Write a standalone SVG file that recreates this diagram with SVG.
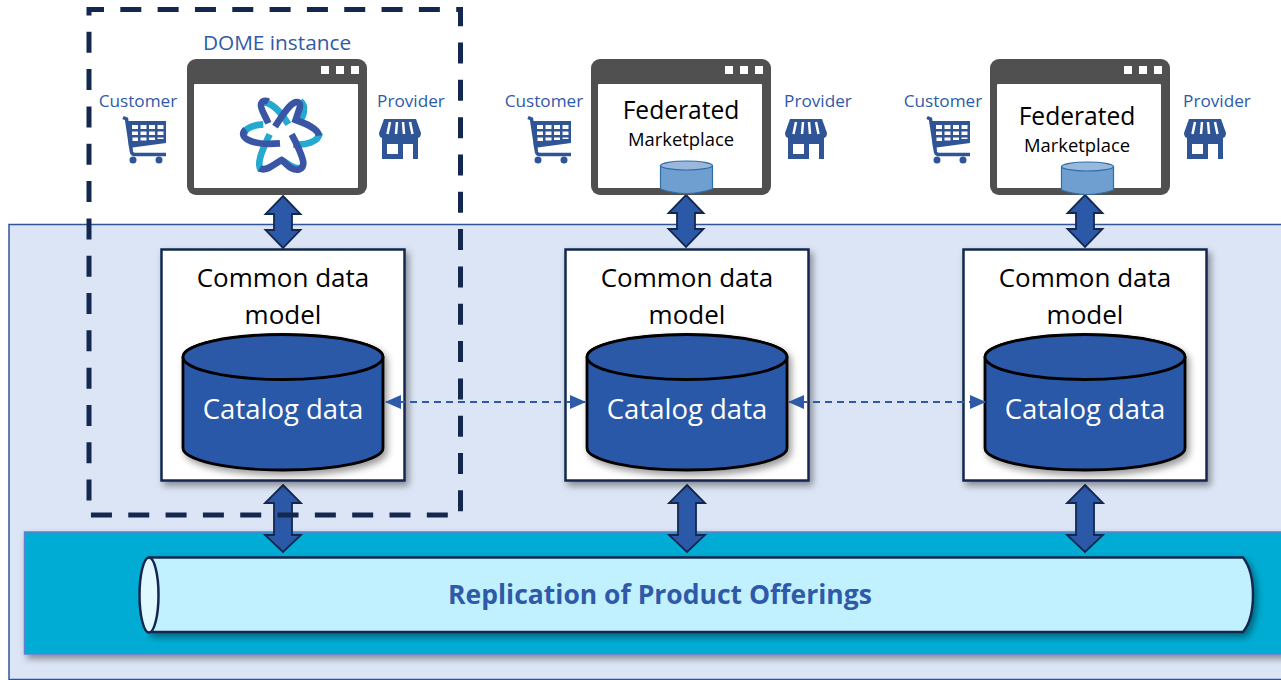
<svg xmlns="http://www.w3.org/2000/svg" xmlns:xlink="http://www.w3.org/1999/xlink" width="1281" height="680" viewBox="0 0 1281 680">
<style>
text{font-family:"Open Sans","Noto Sans","Liberation Sans",sans-serif;text-anchor:middle}
.blue{fill:#2f5aa8}
.sm{font-size:17.200px}
.cdm{font-size:26px;fill:#000}
.cat{font-size:27.500px;fill:#fff}
.fed{font-size:24.600px;fill:#000}
.mkt{font-size:18.400px;fill:#000}
.card{fill:#fff;stroke:#14284f;stroke-width:2.500;filter:url(#sh)}
.cyl{fill:#2c58a8;stroke:#000;stroke-width:2.800}
.arr{fill:#2c58a8;stroke:#14284f;stroke-width:1.800}
.dash{fill:none;stroke:#2f5aa8;stroke-width:2;stroke-dasharray:7 5}
.mini{fill:#6f9fd0;stroke:#2f6ea5;stroke-width:1.200}
.minitop{fill:#9ab8dd;stroke:#2f6ea5;stroke-width:1.200}
</style>
<defs>
<filter id="sh" x="-10%" y="-10%" width="125%" height="125%"><feDropShadow dx="3" dy="4" stdDeviation="3.500" flood-color="#000" flood-opacity=".4"/></filter>
<marker id="ah" markerWidth="16" markerHeight="14" refX="15" refY="7" orient="auto-start-reverse" markerUnits="userSpaceOnUse"><path d="M0 0L16 7L0 14Z" fill="#2f5aa8"/></marker>
<path id="ar-s" class="arr" d="M0 0L17.500 18H9V34H17.500L0 52L-17.500 34H-9V18H-17.500Z"/>
<path id="ar-l" class="arr" d="M0 0L18 18H9V50H18L0 67L-18 50H-9V18H-18Z"/>
<g id="win">
<rect x="0" y="0" width="180" height="136" rx="9" fill="#505050"/>
<rect x="7" y="25" width="164" height="104" rx="1" fill="#fff"/>
<rect x="134" y="7" width="8" height="8" fill="#fff"/><rect x="149" y="7" width="8" height="8" fill="#fff"/><rect x="164" y="7" width="8" height="8" fill="#fff"/>
</g>
<g id="cart">
<path d="M1 1.500L4.500 3L9.500 36Q10 38.500 13 38.500H44" fill="none" stroke="#2f5597" stroke-width="3.500"/>
<path d="M5 5H44V27L7 32Z" fill="#2f5597"/>
<g fill="#fff"><rect x="10" y="9" width="6" height="4"/><rect x="18.500" y="9" width="6" height="4"/><rect x="27" y="9" width="6" height="4"/><rect x="35.500" y="9" width="6" height="4"/>
<rect x="10" y="15.500" width="6" height="3.500"/><rect x="18.500" y="15.500" width="6" height="3.500"/><rect x="27" y="15.500" width="6" height="3.500"/><rect x="35.500" y="15.500" width="6" height="3.500"/>
<rect x="10.500" y="21.500" width="5.500" height="3.500"/><rect x="18.500" y="21.500" width="6" height="3"/><rect x="27" y="21.500" width="6" height="2.500"/><rect x="35.500" y="21.500" width="6" height="1.500"/></g>
<circle cx="11" cy="44" r="3.500" fill="#2f5597"/><circle cx="37" cy="44" r="3.500" fill="#2f5597"/>
</g>
<g id="store">
<path d="M5 0H37L42 14Q42 19 38 19H4Q0 19 0 14Z" fill="#2f5597"/>
<path d="M11 3L8.500 15M18 3L17 15M24 3L25 15M31 3L33.500 15" stroke="#fff" stroke-width="2.500" fill="none"/>
<path d="M3 18H39V40H3Z" fill="#2f5597"/>
<rect x="8" y="25" width="11" height="10" fill="#fff"/><rect x="24" y="25" width="10" height="15" fill="#fff"/>
</g>
<g id="db">
<path class="cyl" filter="url(#sh)" d="M0 23A100 22 0 0 1 200 23V114A100 22 0 0 1 0 114Z"/>
<ellipse class="cyl" cx="100" cy="23" rx="100" ry="22.500"/>
</g>
</defs>

<g id="band"><rect x="9" y="224.500" width="1290" height="455" fill="#dce5f5" stroke="#2f5597" stroke-width="1.500"/></g>
<g id="replication-band"><rect x="24.500" y="532" width="1275" height="122" fill="#00acd3" stroke="#5f7fd0" stroke-width="1.500" filter="url(#sh)"/></g>

<g id="replication-tube">
<path d="M149 557.500H1243Q1253 570 1253 595Q1253 620 1243 632H149Z" fill="#c1f1ff" stroke="#14284f" stroke-width="2.500" filter="url(#sh)"/>
<ellipse cx="149" cy="595" rx="9.500" ry="37.500" fill="#e0f8ff" stroke="#14284f" stroke-width="2.500"/>
<text x="660" y="604" font-size="26.500" font-weight="700" class="blue">Replication of Product Offerings</text>
</g>

<g id="connectors">
<use href="#ar-s" xlink:href="#ar-s" x="283" y="196"/>
<use href="#ar-s" xlink:href="#ar-s" x="686" y="195"/>
<use href="#ar-s" xlink:href="#ar-s" x="1085" y="195"/>
<use href="#ar-l" xlink:href="#ar-l" x="283" y="485"/>
<use href="#ar-l" xlink:href="#ar-l" x="687" y="485"/>
<use href="#ar-l" xlink:href="#ar-l" x="1085" y="485"/>
</g>

<g id="dome-instance">
<text x="277" y="50" font-size="20.800" class="blue">DOME instance</text>
<use href="#win" xlink:href="#win" x="187" y="59"/>
<g id="dome-logo" transform="translate(225 85) scale(.3333)" fill="none" stroke-width="20" stroke-linecap="butt">
<g stroke="#24a9d0">
<path d="M118 52C145 55 170 85 190 118"/>
<path d="M226 48C246 65 236 95 220 112"/>
<path d="M58 150C55 130 85 120 115 118"/>
<path d="M284 145C280 170 245 182 205 178"/>
<path d="M108 256C92 235 115 190 134 148"/>
<path d="M170 225C190 235 210 258 232 248"/>
</g>
<g stroke="#3a55a5">
<path d="M150 125C170 95 190 60 210 52C225 48 228 60 222 75L212 105C240 115 280 130 282 152"/>
<path d="M200 148C215 175 235 220 235 235C235 255 215 258 200 250C190 245 175 228 170 225C150 235 125 262 104 250"/>
<path d="M165 175C130 178 90 175 70 165C50 155 52 142 62 134"/>
<path d="M130 115C120 90 105 70 108 58C111 47 122 45 130 50"/>
</g>
</g>
<text x="138" y="107" class="sm blue">Customer</text>
<use href="#cart" xlink:href="#cart" x="122" y="116"/>
<text x="411" y="107" class="sm blue">Provider</text>
<use href="#store" xlink:href="#store" x="379" y="119"/>
</g>

<g id="marketplace-2">
<use href="#win" xlink:href="#win" x="591" y="59"/>
<text x="681" y="119" class="fed">Federated</text>
<text x="681" y="146" class="mkt">Marketplace</text>
<path class="mini" d="M660.500 165.500V189Q686 198 712.500 189V165.500Z"/>
<ellipse class="minitop" cx="686.500" cy="165.500" rx="26" ry="4.500"/>
<text x="544" y="107" class="sm blue">Customer</text>
<use href="#cart" xlink:href="#cart" x="527" y="116"/>
<text x="818" y="107" class="sm blue">Provider</text>
<use href="#store" xlink:href="#store" x="785" y="119"/>
</g>

<g id="marketplace-3">
<use href="#win" xlink:href="#win" x="990" y="59"/>
<text x="1077" y="125" class="fed">Federated</text>
<text x="1077" y="152" class="mkt">Marketplace</text>
<path class="mini" d="M1061.500 166.500V190Q1087 199 1113.500 190V166.500Z"/>
<ellipse class="minitop" cx="1087.500" cy="166.500" rx="26" ry="4.500"/>
<text x="943" y="107" class="sm blue">Customer</text>
<use href="#cart" xlink:href="#cart" x="926" y="116"/>
<text x="1217" y="107" class="sm blue">Provider</text>
<use href="#store" xlink:href="#store" x="1184" y="119"/>
</g>

<g id="catalog-1">
<rect class="card" x="161.500" y="249.500" width="243" height="231"/>
<text x="283" y="287" class="cdm">Common data</text><text x="283" y="324" class="cdm">model</text>
<use href="#db" xlink:href="#db" x="183" y="334"/>
<text x="283" y="419" class="cat">Catalog data</text>
</g>
<g id="catalog-2">
<rect class="card" x="565.500" y="249.500" width="243" height="231"/>
<text x="687" y="287" class="cdm">Common data</text><text x="687" y="324" class="cdm">model</text>
<use href="#db" xlink:href="#db" x="587" y="334"/>
<text x="687" y="419" class="cat">Catalog data</text>
</g>
<g id="catalog-3">
<rect class="card" x="963.500" y="249.500" width="243" height="231"/>
<text x="1085" y="287" class="cdm">Common data</text><text x="1085" y="324" class="cdm">model</text>
<use href="#db" xlink:href="#db" x="985" y="334"/>
<text x="1085" y="419" class="cat">Catalog data</text>
</g>

<g id="dome-boundary"><path d="M104 9.500H460.500V515H89V9.500H104" fill="none" stroke="#14284f" stroke-width="5" stroke-dasharray="21 16.320" stroke-dashoffset="21"/></g>

<g id="catalog-links">
<path class="dash" d="M386 402H585" marker-start="url(#ah)" marker-end="url(#ah)"/>
<path class="dash" d="M789 402H985" marker-start="url(#ah)" marker-end="url(#ah)"/>
</g>
</svg>
